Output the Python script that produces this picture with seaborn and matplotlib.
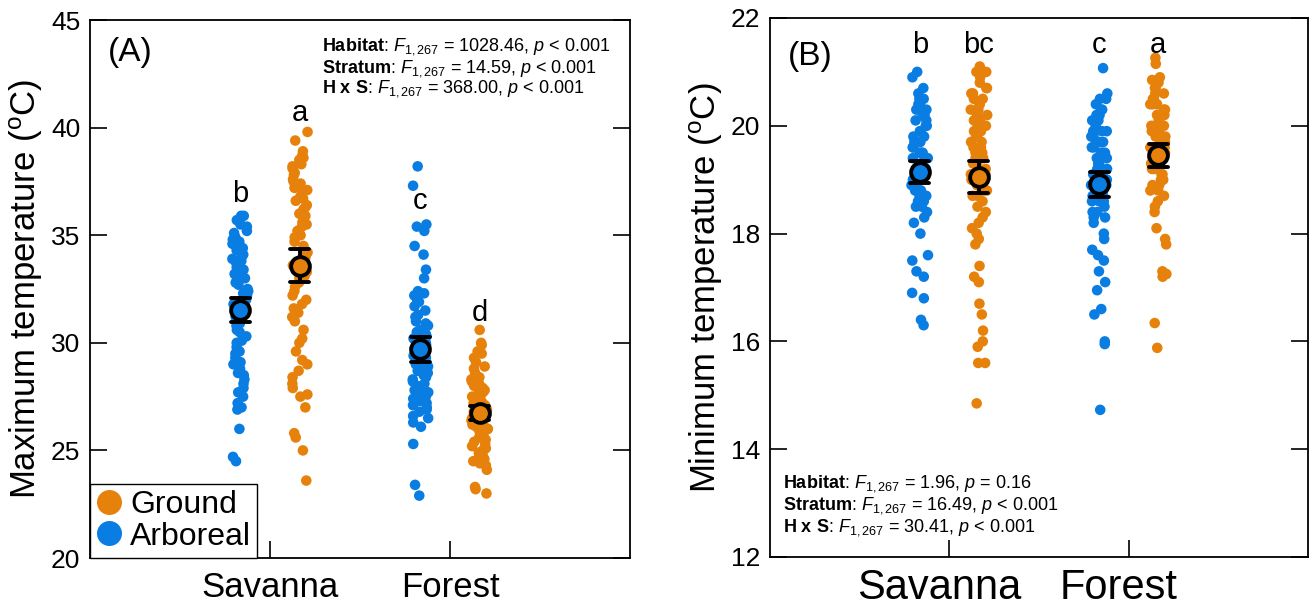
import numpy as np
import pandas as pd
import matplotlib
matplotlib.use('Agg')
import matplotlib.pyplot as plt
from matplotlib.lines import Line2D
from matplotlib.transforms import ScaledTranslation
import seaborn as sns

# Datos
habitats = ['Savanna', 'Forest']
strata = ['Arboreal', 'Ground']
colores = {'Arboreal': '#0a7de3', 'Ground': '#e6820b'}

# (A) temperatura maxima
tmax_sav_arb = [35.9, 35.9, 35.7, 35.5, 35.4, 35.2, 35.1, 34.9, 34.8, 34.7,
                34.6, 34.5, 34.4, 34.3, 34.1, 34.0, 33.9, 33.8, 33.7, 33.6,
                33.5, 33.4, 33.3, 33.2, 33.1, 33.0, 32.9, 32.8, 32.7, 32.5,
                32.4, 32.3, 32.2, 32.0, 31.9, 31.8, 31.7, 31.5, 31.4, 31.2,
                31.1, 30.9, 30.8, 30.6, 30.5, 30.3, 30.1, 30.0, 29.8, 29.6,
                29.5, 29.3, 29.1, 29.0, 28.8, 28.6, 28.5, 28.3, 28.1, 27.9,
                27.7, 27.5, 27.2, 27.0, 26.9, 26.0, 24.7, 24.5]
tmax_sav_gro = [39.8, 39.4, 38.9, 38.7, 38.6, 38.5, 38.3, 38.2, 38.1, 37.9,
                37.8, 37.6, 37.5, 37.4, 37.2, 37.1, 37.0, 36.8, 36.7, 36.6,
                36.4, 36.3, 36.2, 36.0, 35.9, 35.8, 35.6, 35.5, 35.4, 35.2,
                35.0, 34.9, 34.7, 34.5, 34.3, 34.2, 34.0, 33.8, 33.6, 33.5,
                33.3, 33.1, 33.0, 32.8, 32.6, 32.4, 32.2, 32.0, 31.8, 31.6,
                31.4, 31.2, 31.0, 30.6, 30.2, 30.0, 29.6, 29.2, 29.0, 28.7,
                28.4, 28.1, 27.9, 27.6, 27.5, 27.0, 25.8, 25.6, 25.0, 23.6]
tmax_for_arb = [38.2, 37.3, 35.5, 35.4, 35.2, 34.5, 34.1, 33.4, 33.0, 32.4,
                32.3, 32.2, 32.0, 31.9, 27.2, 31.7, 26.9, 31.5, 26.5, 31.3,
                31.2, 31.0, 30.9, 30.8, 27.6, 30.6, 30.5, 30.4, 30.3, 30.2,
                30.1, 30.0, 29.9, 29.8, 29.7, 29.6, 29.5, 29.4, 29.3, 29.2,
                29.1, 29.0, 28.9, 28.8, 28.7, 28.6, 28.5, 28.4, 28.3, 28.2,
                28.1, 28.0, 27.9, 27.8, 27.7, 27.6, 27.5, 27.4, 27.3, 27.1,
                27.0, 26.8, 26.6, 26.3, 26.1, 25.3, 23.4, 22.9]
tmax_for_gro = [30.6, 30.0, 29.9, 29.6, 29.5, 29.3, 29.1, 28.9, 28.8, 28.6,
                28.5, 28.4, 28.3, 28.2, 28.1, 28.0, 27.9, 27.8, 27.8, 27.7,
                27.6, 27.5, 27.5, 27.4, 27.3, 27.2, 27.2, 27.1, 27.0, 27.0,
                26.9, 26.9, 26.8, 26.7, 26.6, 26.6, 26.5, 26.5, 26.4, 26.3,
                26.3, 26.2, 26.1, 26.0, 26.0, 25.9, 25.8, 25.7, 25.6, 25.5,
                25.4, 25.3, 25.2, 25.1, 25.0, 24.9, 24.8, 24.7, 24.6, 24.5,
                24.4, 24.3, 24.1, 23.3, 23.2, 23.0]

# (B) temperatura minima
tmin_sav_arb = [21.0, 20.9, 20.7, 20.6, 20.5, 20.5, 20.4, 20.4, 20.3, 20.3,
                20.2, 20.2, 20.1, 20.1, 20.0, 20.0, 19.9, 19.9, 19.8, 19.8,
                19.7, 19.7, 19.6, 19.6, 19.5, 19.5, 19.5, 19.4, 19.4, 19.4,
                19.3, 19.3, 19.3, 19.2, 19.2, 19.2, 19.1, 19.1, 19.1, 19.0,
                19.0, 19.0, 18.9, 18.9, 18.9, 18.8, 18.8, 18.8, 18.7, 18.7,
                18.7, 18.6, 18.6, 18.6, 18.5, 18.5, 18.4, 18.3, 18.2, 18.0,
                17.6, 17.5, 17.3, 17.2, 16.9, 16.8, 16.4, 16.3]
tmin_sav_gro = [21.1, 21.0, 21.0, 20.9, 19.0, 20.8, 18.9, 20.7, 20.7, 20.6,
                20.6, 18.7, 20.5, 20.5, 20.4, 20.4, 20.3, 20.3, 20.2, 20.2,
                18.8, 20.1, 20.1, 20.0, 20.0, 19.9, 19.9, 19.8, 19.8, 19.8,
                19.7, 19.7, 19.6, 19.6, 19.6, 19.5, 19.5, 19.4, 19.4, 19.3,
                19.3, 19.2, 19.1, 19.1, 19.0, 18.9, 18.8, 18.7, 18.6, 18.5,
                18.4, 18.3, 18.2, 18.1, 18.0, 17.9, 17.8, 17.4, 17.2, 17.1,
                16.7, 16.5, 16.2, 16.0, 15.9, 15.6, 15.6, 14.85]
tmin_for_arb = [21.07, 20.6, 20.5, 20.5, 20.4, 20.3, 20.3, 20.2, 20.2, 20.1,
                20.1, 20.0, 19.9, 19.9, 19.9, 19.8, 19.8, 19.7, 19.7, 19.7,
                19.6, 19.6, 19.5, 19.5, 19.5, 19.4, 19.4, 19.4, 19.3, 19.3,
                19.2, 19.2, 19.2, 19.1, 19.1, 19.0, 19.0, 19.0, 18.9, 18.9,
                18.9, 18.8, 18.8, 18.7, 18.7, 18.7, 18.6, 18.6, 18.6, 18.5,
                18.4, 18.4, 18.3, 18.3, 18.2, 18.0, 17.9, 17.7, 17.6, 17.5,
                17.3, 17.1, 16.95, 16.6, 16.5, 16.0, 15.95, 14.73]
tmin_for_gro = [21.26, 21.15, 20.9, 20.85, 20.8, 20.7, 20.7, 20.6, 20.6, 20.5,
                20.5, 20.4, 20.4, 20.4, 20.3, 20.3, 20.2, 20.2, 20.2, 20.1,
                20.1, 20.0, 20.0, 20.0, 19.9, 19.9, 19.8, 19.8, 19.8, 19.7,
                19.7, 19.7, 19.6, 19.6, 19.6, 19.5, 19.5, 19.4, 19.4, 19.4,
                19.3, 19.3, 19.3, 19.2, 19.2, 19.2, 19.1, 19.1, 19.0, 19.0,
                19.0, 18.9, 18.9, 18.8, 18.8, 18.7, 18.6, 18.5, 18.4, 18.1,
                17.9, 17.8, 17.3, 17.25, 17.2, 16.34, 15.88]

letras_max = ['b', 'a', 'c', 'd']
letras_min = ['b', 'bc', 'c', 'a']

stats_max = [('Habitat', '1028.46', '<', '0.001'),
             ('Stratum', '14.59', '<', '0.001'),
             ('H x S', '368.00', '<', '0.001')]
stats_min = [('Habitat', '1.96', '=', '0.16'),
             ('Stratum', '16.49', '<', '0.001'),
             ('H x S', '30.41', '<', '0.001')]

desplaz = 0.165


def armar_tabla(grupos):
    filas = []
    for (hab, est), valores in grupos.items():
        for v in valores:
            filas.append({'habitat': hab, 'stratum': est, 'temp': v})
    df = pd.DataFrame(filas)
    df['pos'] = (df['habitat'].map({'Savanna': 0, 'Forest': 1})
                 + df['stratum'].map({'Arboreal': -desplaz, 'Ground': desplaz}))
    return df


df_max = armar_tabla({('Savanna', 'Arboreal'): tmax_sav_arb, ('Savanna', 'Ground'): tmax_sav_gro,
                      ('Forest', 'Arboreal'): tmax_for_arb, ('Forest', 'Ground'): tmax_for_gro})
df_min = armar_tabla({('Savanna', 'Arboreal'): tmin_sav_arb, ('Savanna', 'Ground'): tmin_sav_gro,
                      ('Forest', 'Arboreal'): tmin_for_arb, ('Forest', 'Ground'): tmin_for_gro})

sns.set_style('ticks')
plt.rcParams['font.family'] = ['Liberation Sans', 'DejaVu Sans']
plt.rcParams['mathtext.fontset'] = 'custom'
plt.rcParams['mathtext.rm'] = 'Liberation Sans'
plt.rcParams['mathtext.it'] = 'Liberation Sans:italic'
plt.rcParams['mathtext.bf'] = 'Liberation Sans:bold'
for clave in ['text.color', 'axes.labelcolor', 'xtick.color', 'ytick.color']:
    plt.rcParams[clave] = 'black'

np.random.seed(3)


def panel(ax, df, ylim, yticks, ylabel, etiqueta, etiqueta_y, letras, y_letras, stats, stats_x, stats_y,
          xlab_size=25, xlab_pad=9):
    sns.stripplot(data=df, x='pos', y='temp', hue='stratum', hue_order=strata, palette=colores,
                  native_scale=True, orient='x', jitter=0.14, size=7.6, linewidth=0,
                  legend=False, ax=ax, zorder=1)
    sns.pointplot(data=df, x='pos', y='temp', hue='stratum', hue_order=strata, palette=colores,
                  native_scale=True, orient='x', errorbar=('se', 1.6), capsize=0.32,
                  linestyle='none', markers='o', markersize=13.5, markeredgewidth=2.8,
                  markeredgecolor='black', err_kws={'color': 'black', 'linewidth': 2.8},
                  legend=False, ax=ax)
    # marcador de la media por encima de la barra de error
    for linea in ax.lines:
        if linea.get_marker() == 'o':
            linea.set_markeredgecolor('black')
            linea.set_zorder(5)
        else:
            linea.set_color('black')
            linea.set_zorder(4)

    xs = [0 - desplaz, 0 + desplaz, 1 - desplaz, 1 + desplaz]
    for x, letra, y in zip(xs, letras, y_letras):
        ax.text(x, y, letra, ha='center', va='center', fontsize=21)

    for y, (nombre, f, op, p) in zip(stats_y, stats):
        nom = nombre.replace(' ', r'\ ')
        ax.text(stats_x, y, rf'$\mathbf{{{nom}}}$: $F_{{1,267}}$ = {f}, $p$ {op} {p}',
                transform=ax.transAxes, fontsize=13, ha='left', va='baseline')

    ax.text(0.033, etiqueta_y, etiqueta, transform=ax.transAxes, fontsize=24, ha='left', va='center')

    ax.set_xlim(-1, 2)
    ax.set_ylim(*ylim)
    ax.set_yticks(yticks)
    ax.set_xticks([0, 1])
    ax.set_xticklabels(habitats)
    ax.set_xlabel('')
    ax.set_ylabel(ylabel, fontsize=25, labelpad=4)
    ax.tick_params(axis='both', direction='in', length=12, width=1.2, color='black')
    ax.tick_params(axis='y', right=True, labelsize=19, pad=7)
    ax.tick_params(axis='x', labelsize=xlab_size, pad=xlab_pad)
    for s in ax.spines.values():
        s.set_visible(True)
        s.set_linewidth(1.3)
        s.set_color('black')


fig = plt.figure(figsize=(13.12, 6.1), dpi=100)
ax1 = fig.add_axes([0.0686, 0.0852, 0.4116, 0.8820])
ax2 = fig.add_axes([0.5869, 0.0869, 0.4101, 0.8836])

panel(ax1, df_max, (20, 45), [20, 25, 30, 35, 40, 45], r'Maximum temperature ($^{\rm o}$C)',
      '(A)', 0.94, letras_max, [36.9, 40.7, 36.6, 31.4], stats_max, 0.43, [0.943, 0.903, 0.865])
panel(ax2, df_min, (12, 22), [12, 14, 16, 18, 20, 22], r'Minimum temperature ($^{\rm o}$C)',
      '(B)', 0.928, letras_min, [21.5, 21.5, 21.5, 21.5], stats_min, 0.024, [0.128, 0.088, 0.048],
      xlab_size=30, xlab_pad=8)

# en (B) las etiquetas del eje x estan algo corridas a la izquierda
corrimiento = ScaledTranslation(-10 / 100, 0, fig.dpi_scale_trans)
for etq in ax2.get_xticklabels():
    etq.set_transform(etq.get_transform() + corrimiento)

manijas = [Line2D([], [], marker='o', linestyle='none', markersize=18, markeredgewidth=0,
                  color=colores['Ground'], label='Ground'),
           Line2D([], [], marker='o', linestyle='none', markersize=18, markeredgewidth=0,
                  color=colores['Arboreal'], label='Arboreal')]
leg = ax1.legend(handles=manijas, loc='lower left', bbox_to_anchor=(0, 0), borderaxespad=0,
                 fontsize=23, frameon=True, fancybox=False, borderpad=0.2, handlelength=0.8,
                 handletextpad=0.25, labelspacing=0.05)
leg.get_frame().set_edgecolor('black')
leg.get_frame().set_linewidth(1.0)
leg.get_frame().set_alpha(1)

fig.savefig('out.png', dpi=100)
